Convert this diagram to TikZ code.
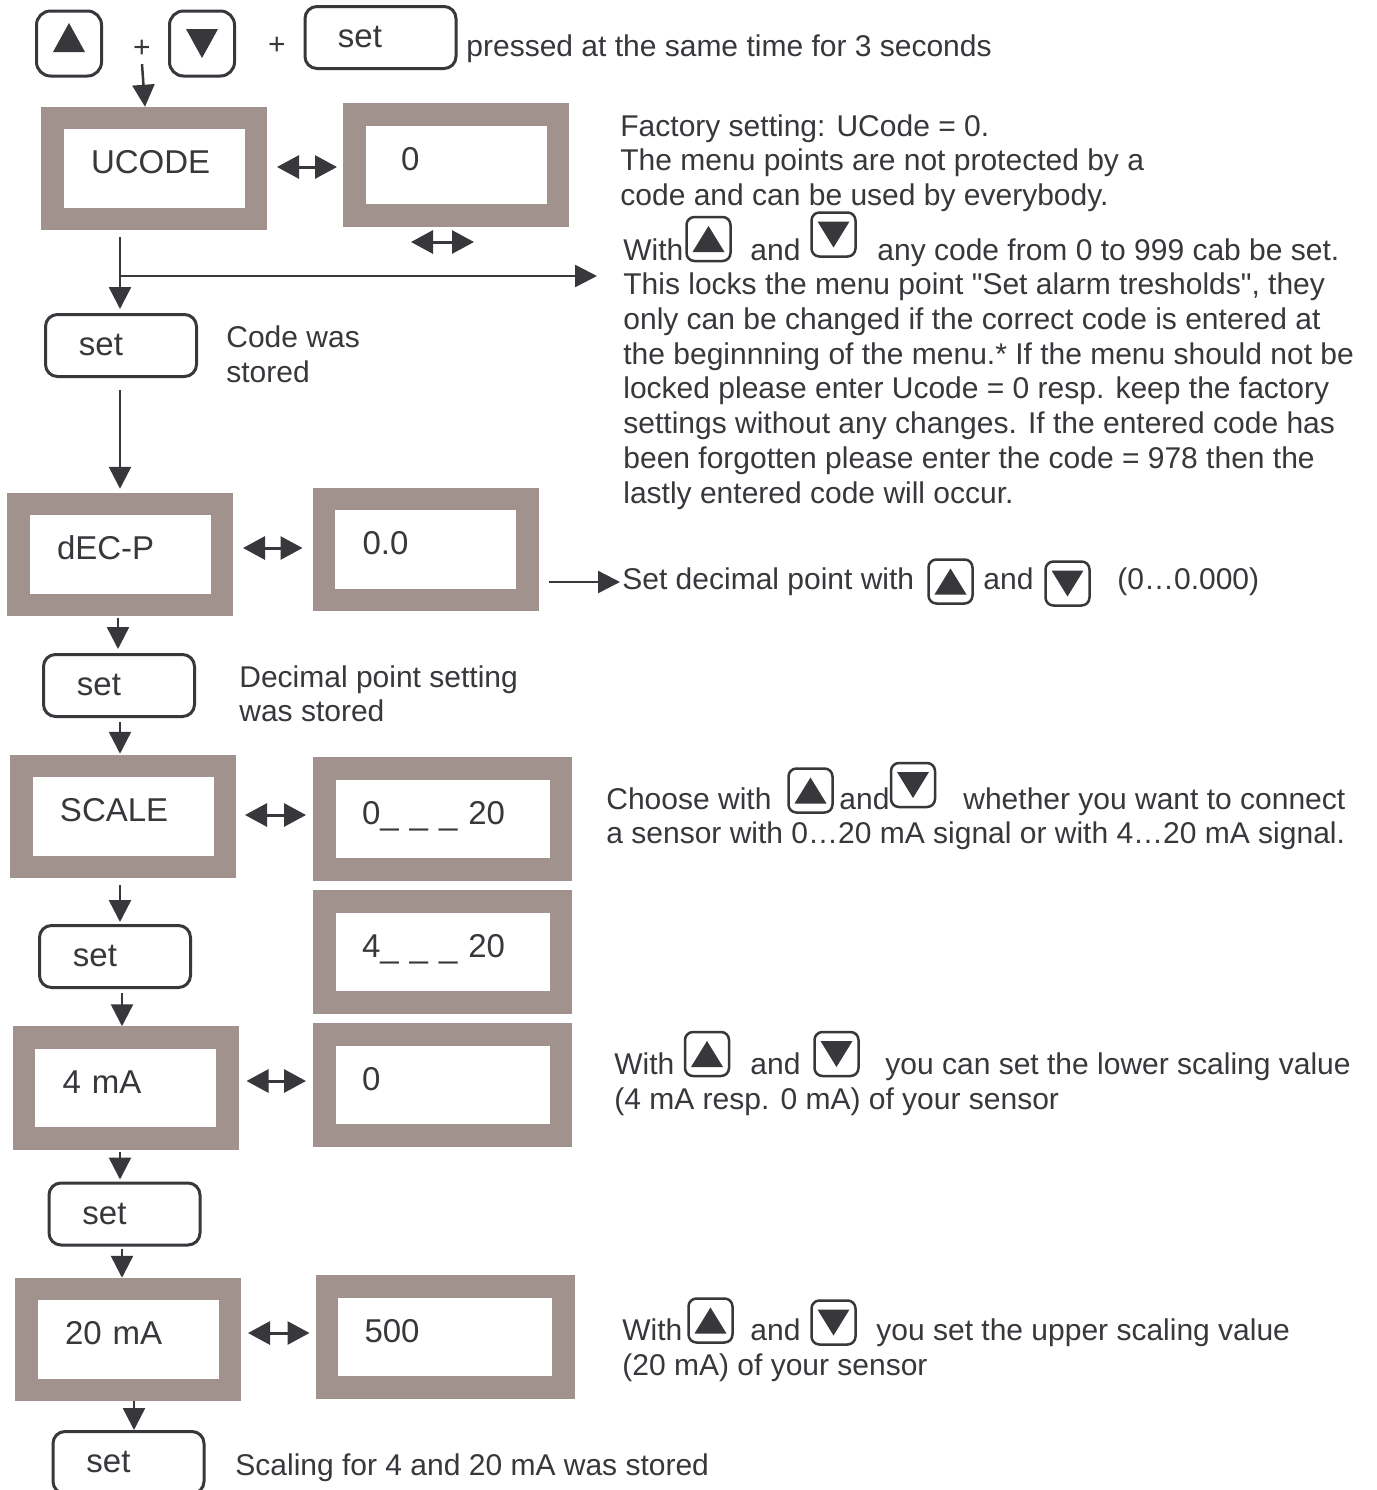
\documentclass[tikz,border=0pt]{standalone}
\usepackage{fontspec}
\setmainfont{Liberation Sans}[Ligatures=TeXOff]
\usetikzlibrary{arrows.meta,calc}
\definecolor{lcdgray}{RGB}{161,146,141}
\definecolor{ink}{RGB}{55,55,60}
\begin{document}
\begin{tikzpicture}[x=0.5pt,y=-0.5pt,
  lcd/.style={draw=lcdgray, line width=11.25pt, fill=white, inner sep=0pt,
    minimum width=101.75pt, minimum height=50.5pt, text width=63pt, align=left,
    font=\fontsize{16.5}{18}\selectfont, text=ink, text height=0.716em, text depth=2pt},
  lcdw/.style={lcd, minimum width=118.25pt, text width=80.5pt},
  setbtn/.style={draw=ink, line width=1.5pt, rounded corners=6pt, fill=white,
    minimum width=75.5pt, minimum height=31pt, inner sep=0pt,
    font=\fontsize{16.5}{18}\selectfont, text=ink, text height=1.0em, text depth=0pt},
  txt/.style={anchor=west, inner sep=0pt, text height=0.716em, text depth=0pt,
    font=\fontsize{15}{17}\selectfont, text=ink, yshift=-2pt},
  btn/.style={draw=ink, line width=1.25pt, rounded corners=4pt, minimum size=22pt, inner sep=0pt},
  upbtn/.style={btn, path picture={\fill[ink, sharp corners] ([shift={(-8pt,-6.5pt)}]path picture bounding box.center) -- ++(16pt,0pt) -- ++(-8pt,13pt) -- cycle;}},
  downbtn/.style={btn, path picture={\fill[ink, sharp corners] ([shift={(-8pt,6.5pt)}]path picture bounding box.center) -- ++(16pt,0pt) -- ++(-8pt,-13pt) -- cycle;}},
  bigbtn/.style={draw=ink, line width=1.5pt, rounded corners=7pt, minimum size=32.5pt, inner sep=0pt},
  bigup/.style={bigbtn, path picture={\fill[ink, sharp corners] ([shift={(-8pt,-4.25pt)}]path picture bounding box.center) -- ++(16pt,0pt) -- ++(-8pt,14.5pt) -- cycle;}},
  bigdown/.style={bigbtn, path picture={\fill[ink, sharp corners] ([shift={(-8pt,7.25pt)}]path picture bounding box.center) -- ++(16pt,0pt) -- ++(-8pt,-14.5pt) -- cycle;}},
  flow/.style={draw=ink, line width=1.25pt, -{Triangle[width=11pt,length=11pt]}},
  dbl/.style={draw=ink, line width=1.5pt, {Triangle[width=11.5pt,length=11pt]}-{Triangle[width=11.5pt,length=11pt]}},
  plus/.style={inner sep=0pt, font=\fontsize{15}{17}\selectfont, text=ink}
]
\path[use as bounding box, fill=white] (0,0) rectangle (1377,1490);

% top keys
\node[bigup] (kup) at (69,43.5) {};
\node[plus] (plus1) at (142,49) {+};
\node[bigdown] (kdown) at (202,43.5) {};
\node[plus] (plus2) at (277,46) {+};
\node[setbtn] (set0) at (380.5,37.5) {set\hspace*{20.5pt}};
\node[txt] (tpress) at (466,45) {pressed at the same time for 3 seconds};

% display boxes
\node[lcd] (ucode) at (154,168.5) {UCODE};
\node[lcd, text width=55pt] (ucv) at (456,165) {0};
\node[lcd] (decp) at (120,554.5) {dEC-P};
\node[lcd] (decv) at (425.5,549.5) {0.0};
\node[lcd] (scale) at (123,816.5) {SCALE};
\node[lcdw] (scv1) at (442.5,819) {0\_ \_ \_ 20};
\node[lcdw] (scv2) at (442.5,952) {4\_ \_ \_ 20};
\node[lcd] (ma4) at (125.5,1088) {4 mA};
\node[lcdw] (ma4v) at (442.5,1085) {0};
\node[lcd] (ma20) at (128,1339.5) {20 mA};
\node[lcdw] (ma20v) at (445,1337) {500};

% set keys
\node[setbtn] (set1) at (121,345.5) {set\hspace*{20pt}};
\node[setbtn] (set2) at (119,685.5) {set\hspace*{20pt}};
\node[setbtn] (set3) at (115,956.5) {set\hspace*{20pt}};
\node[setbtn] (set4) at (124.5,1214) {set\hspace*{20pt}};
\node[setbtn] (set5) at (128.5,1462.5) {set\hspace*{20pt}};

% left labels
\node[txt] (lcode1) at (226,336) {Code was};
\node[txt] (lcode2) at (226,371) {stored};
\node[txt] (ldec1) at (239,676) {Decimal point setting};
\node[txt] (ldec2) at (239,710) {was stored};
\node[txt] (lscal) at (235,1464) {Scaling for 4 and 20 mA was stored};

% right paragraph
\node[txt] (p1) at (620,125) {Factory setting: UCode = 0.};
\node[txt] (p2) at (620,159.7) {The menu points are not protected by a};
\node[txt] (p3) at (620,194.4) {code and can be used by everybody.};
\node[txt] (q1a) at (623,249) {With};
\node[upbtn] (q1up) at (708.5,239) {};
\node[txt] (q1b) at (750,249) {and};
\node[downbtn] (q1dn) at (833.5,234.5) {};
\node[txt] (q1c) at (877,249) {any code from 0 to 999 cab be set.};
\node[txt] (q2) at (623,283.7) {This locks the menu point "Set alarm tresholds", they};
\node[txt] (q3) at (623,318.4) {only can be changed if the correct code is entered at};
\node[txt] (q4) at (623,353) {the beginnning of the menu.* If the menu should not be};
\node[txt] (q5) at (623,387.8) {locked please enter Ucode = 0 resp. keep the factory};
\node[txt] (q6) at (623,422.5) {settings without any changes. If the entered code has};
\node[txt] (q7) at (623,457) {been forgotten please enter the code = 978 then the};
\node[txt] (q8) at (623,492) {lastly entered code will occur.};

% decimal point row
\node[txt] (d1) at (622,578) {Set decimal point with};
\node[upbtn] (dup) at (950.5,581.5) {};
\node[txt] (d2) at (983,578) {and};
\node[downbtn] (ddn) at (1067.5,583.5) {};
\node[txt] (d3) at (1117,578) {(0…0.000)};

% scale row
\node[txt] (s1) at (606,798) {Choose with};
\node[upbtn] (sup) at (810.5,790.5) {};
\node[txt] (s2) at (839,798) {and};
\node[downbtn] (sdn) at (913,785) {};
\node[txt] (s3) at (963,798) {whether you want to connect};
\node[txt] (s4) at (606,832) {a sensor with 0…20 mA signal or with 4…20 mA signal.};

% 4 mA row
\node[txt] (m1) at (614,1063) {With};
\node[upbtn] (mup) at (707,1054) {};
\node[txt] (m2) at (750,1063) {and};
\node[downbtn] (mdn) at (836.5,1054) {};
\node[txt] (m3) at (885,1063) {you can set the lower scaling value};
\node[txt] (m4) at (614,1098) {(4 mA resp. 0 mA) of your sensor};

% 20 mA row
\node[txt] (n1) at (622,1329) {With};
\node[upbtn] (nup) at (710.5,1320.5) {};
\node[txt] (n2) at (750,1329) {and};
\node[downbtn] (ndn) at (833.5,1322.5) {};
\node[txt] (n3) at (876,1329) {you set the upper scaling value};
\node[txt] (n4) at (622,1364) {(20 mA) of your sensor};

% flow arrows
\draw[flow] ([yshift=-3pt]plus1.south) -- ([xshift=-4.5pt]ucode.north);
\draw[flow, shorten <=3.5pt, shorten >=2pt] ([xshift=-17pt]ucode.south) -- ([xshift=-0.5pt]set1.north);
\coordinate (br) at (120,276);
\coordinate (brend) at (597,276);
\draw[flow] (br) -- (brend);
\draw[flow, shorten <=6pt, shorten >=2pt] ([xshift=-0.5pt]set1.south) -- (decp.north);
\draw[flow, shorten <=1pt, shorten >=2pt] ([xshift=-1pt]decp.south) -- ([xshift=-0.5pt]set2.north);
\draw[flow, shorten <=2pt, shorten >=0.5pt] ([xshift=0.5pt]set2.south) -- ([xshift=-1.5pt]scale.north);
\draw[flow, shorten <=3.5pt, shorten >=1pt] ([xshift=-1.5pt]scale.south) -- ([xshift=2.5pt]set3.north);
\draw[flow, shorten <=2pt] ([xshift=3.5pt]set3.south) -- ([xshift=-1.75pt]ma4.north);
\draw[flow, shorten <=1pt, shorten >=1pt] ([xshift=-2.75pt]ma4.south) -- ([xshift=-2.25pt]set4.north);
\draw[flow, shorten <=1pt] ([xshift=-1.25pt]set4.south) -- ([xshift=-3pt]ma20.north);
\draw[flow] ([xshift=3pt]ma20.south) -- ([xshift=2.75pt]set5.north);
\draw[flow, shorten <=5pt, shorten >=1pt] (decv.east |- d1.west) -- (d1.west);

% double arrows
\draw[dbl, shorten <=5pt, shorten >=3pt] ([yshift=0.75pt]ucode.east) -- ([yshift=-1pt]ucv.west);
\coordinate (u1) at (411,242);
\coordinate (u2) at (474,242);
\draw[dbl] (u1) -- (u2);
\draw[dbl, shorten <=5pt, shorten >=5pt] ([yshift=3.25pt]decp.east) -- ([yshift=0.75pt]decv.west);
\draw[dbl, shorten <=4.5pt, shorten >=3.5pt] ([yshift=0.75pt]scale.east) -- ([yshift=2pt]scv1.west);
\draw[dbl, shorten <=4pt, shorten >=3.5pt] ([yshift=3.5pt]ma4.east) -- ([yshift=2pt]ma4v.west);
\draw[dbl, shorten <=3.5pt, shorten >=3pt] ([yshift=3.25pt]ma20.east) -- ([yshift=2pt]ma20v.west);
\end{tikzpicture}
\end{document}
